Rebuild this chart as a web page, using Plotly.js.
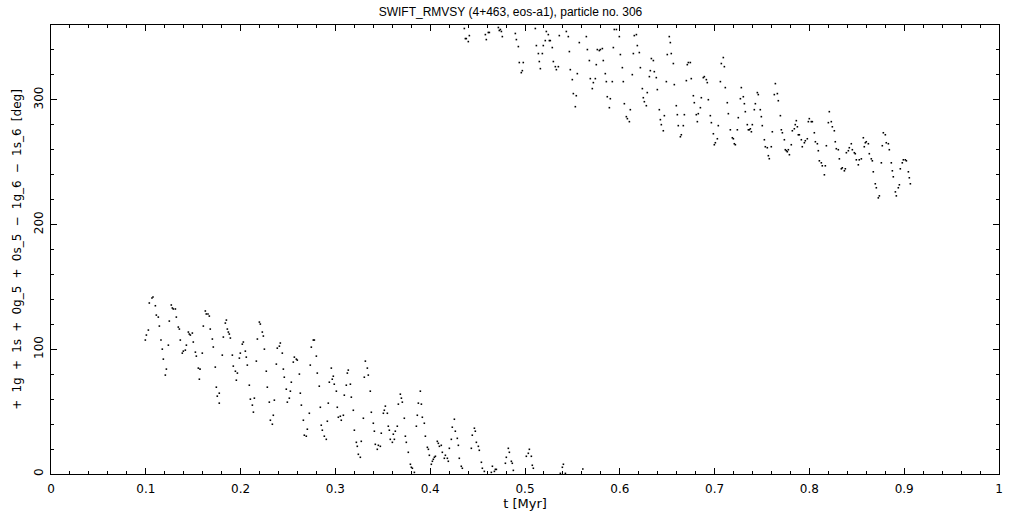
<!DOCTYPE html>
<html>
<head>
<meta charset="utf-8">
<script src="https://cdn.plot.ly/plotly-3.0.1.min.js"></script>
<style>
html,body{margin:0;padding:0;background:#fff;}
#chart{width:1021px;height:511px;}
</style>
</head>
<body>
<div id="chart"></div>
<script>
// time [Myr] and resonant angle [deg]
const tLow = [
0.1065,0.1076,0.1037,0.1101,0.1111,0.1132,0.1143,0.0995,0.1006,0.1027,0.1160,0.1174,0.1185,0.1217,0.1206,0.1238,0.1248,0.1269,0.1280,0.1290,
0.1312,0.1322,0.1343,0.1354,0.1364,0.1385,0.1396,0.1417,0.1428,0.1449,0.1459,0.1470,0.1491,0.1501,0.1523,0.1533,0.1554,0.1572,0.1565,0.1596,
0.1607,0.1628,0.1638,0.1656,0.1670,0.1680,0.1702,0.1712,0.1733,0.1744,0.1754,0.1775,0.1775,0.1807,0.1818,0.1839,0.1850,0.1860,0.1871,0.1881,
0.1892,0.1913,0.1923,0.1945,0.1955,0.1966,0.1987,0.1997,0.2018,0.2029,0.2050,0.2060,0.2071,0.2092,0.2103,0.2124,0.2135,0.2145,0.2166,0.2177,
0.2198,0.2208,0.2229,0.2240,0.2251,0.2271,0.2282,0.2303,
0.2314,0.2335,0.2345,0.2356,0.2377,0.2387,0.2409,0.2419,0.2440,0.2451,0.2461,0.2482,0.2493,0.2514,0.2525,0.2535,0.2556,0.2567,0.2588,0.2598,
0.2620,0.2630,0.2641,0.2662,0.2672,0.2693,0.2704,0.2725,0.2735,0.2746,0.2767,0.2778,0.2799,0.2809,0.2830,0.2841,0.2851,0.2862,0.2883,0.2904,
0.2915,0.2925,0.2936,0.2957,0.2967,0.2978,0.2988,0.3010,0.3020,0.3031,0.3052,0.3062,0.3084,0.3094,0.3115,0.3126,0.3136,0.3158,0.3168,0.3189,
0.3200,0.3221,0.3231,0.3242,0.3263,0.3273,0.3295,0.3305,0.3316,0.3337,0.3347,0.3368,0.3379,0.3400,0.3411,0.3421,0.3442,0.3453,0.3474,0.3484,
0.3506,0.3516,0.3527,0.3548,0.3558,0.3569,0.3579,0.3601,0.3611,0.3622,0.3632,0.3653,0.3664,0.3685,0.3696,0.3706,0.3727,0.3738,0.3748,0.3769,
0.3791,0.3801,0.3812,0.3833,0.3854,0.3864,0.3875,0.3896,0.3907,0.3917,0.3938,0.3949,0.3970,0.3981,0.3991,0.4012,0.4023,0.4033,0.4044,0.4055,
0.4075,0.4086,0.4097,
0.4117,0.4128,0.4149,0.4160,0.4181,0.4191,0.4202,0.4223,0.4233,0.4255,0.4265,0.4286,0.4297,0.4307,0.4328,0.4339,0.4434,0.4444,0.4466,0.4476,
0.4487,0.4508,0.4518,0.4540,0.4550,0.4571,0.4645,0.4656,0.4677,0.4687,0.4698,0.4793,0.4803,0.4824,0.4835,0.4856,0.4866,0.4877,0.5014,0.5035,
0.5046,0.5067,0.5077,0.5088,0.5373,0.5394,0.5405,0.5426,0.5610
];
const vLow = [
141.1,141.9,137.1,134.9,127.4,125.8,118.6,107.4,111.4,115.4,107.4,100.1,92.1,84.1,79.3,103.3,122.6,135.5,133.1,132.3,
132.3,125.8,117.8,116.2,107.4,96.9,98.5,99.3,103.3,113.8,112.2,111.4,113.0,105.8,97.7,94.5,84.9,84.1,76.0,96.9,
118.6,130.7,128.3,128.3,126.6,116.2,108.2,101.8,85.7,69.6,62.4,64.8,56.8,95.3,109.8,121.0,123.4,116.2,113.8,112.2,
109.0,95.3,86.5,82.4,75.2,80.9,92.9,96.9,104.1,105.8,98.5,93.7,87.3,71.2,60.0,55.2,49.6,60.8,90.5,108.2,
121.8,120.2,113.8,110.6,100.1,82.4,69.6,57.6,
43.1,39.9,47.1,59.2,88.1,100.9,102.5,105.0,96.9,84.1,77.6,68.0,57.6,60.8,66.4,73.6,89.7,93.7,92.1,91.3,
80.1,64.8,55.2,43.1,31.1,30.3,35.9,48.7,87.3,101.7,107.4,107.4,94.5,80.9,70.4,53.5,39.1,35.1,30.3,27.8,
42.3,56.8,73.6,84.9,76.0,78.4,72.0,66.4,53.5,45.5,46.3,43.1,47.1,63.2,71.2,80.9,83.3,72.0,61.6,51.1,
35.1,25.4,22.2,15.8,13.4,26.2,44.7,77.6,90.5,84.9,79.3,66.4,49.5,40.7,34.3,23.8,19.8,23.0,22.2,32.7,
48.7,51.1,54.4,48.7,38.3,35.1,27.8,25.4,31.9,27.8,34.3,38.3,56.0,64.0,60.8,57.6,44.7,30.3,25.4,17.4,
7.8,5.4,4.6,1.3,38.3,47.1,56.8,66.4,56.0,45.5,40.7,30.3,21.4,19.8,15.0,7.8,10.2,11.8,13.4,14.2,
26.2,24.6,22.2,
23.0,17.4,12.6,15.0,12.6,10.2,20.6,27.8,37.5,43.9,34.3,28.6,23.0,12.6,6.2,4.6,20.6,31.1,36.7,34.3,
25.4,22.2,19.0,9.4,4.6,2.1,1.3,6.2,2.1,3.7,3.7,8.6,13.4,20.6,17.4,10.2,8.6,2.9,14.2,16.6,
19.8,14.2,7.0,4.6,0.5,5.4,7.8,0.5,4.0
];
const tHigh = [
0.4360,0.4371,0.4381,0.4402,0.4413,0.4582,0.4592,0.4613,0.4624,0.4719,0.4729,0.4740,0.4751,0.4761,0.4898,0.4909,0.4930,0.4940,0.4961,0.4972,
0.4982,0.5109,0.5120,0.5141,0.5151,0.5162,0.5183,0.5193,0.5214,0.5225,0.5246,0.5257,0.5267,0.5288,0.5299,0.5320,0.5331,0.5352,0.5362,0.5436,
0.5457,0.5468,0.5478,0.5499,0.5510,0.5531,0.5541,0.5552,0.5573,0.5647,0.5658,0.5679,0.5689,0.5710,0.5721,0.5742,0.5752,0.5763,0.5784,0.5795,
0.5816,0.5826,0.5847,0.5858,0.5868,0.5890,0.5900,0.5921,0.5932,0.5942,0.5964,0.5995,
0.6006,0.6027,0.6037,0.6048,0.6069,0.6080,0.6101,0.6111,0.6132,0.6143,0.6153,0.6175,0.6185,0.6206,0.6217,0.6238,0.6248,0.6259,0.6280,0.6290,
0.6312,0.6322,0.6333,0.6354,0.6364,0.6385,0.6396,0.6417,0.6428,0.6438,0.6459,0.6470,0.6491,0.6501,0.6522,0.6533,0.6543,0.6565,0.6575,0.6596,
0.6607,0.6617,0.6639,0.6649,0.6670,0.6681,0.6702,0.6712,0.6723,0.6744,0.6754,0.6776,0.6786,0.6807,0.6818,0.6828,0.6850,0.6860,0.6881,0.6892,
0.6913,0.6923,0.6934,0.6955,0.6966,0.6987,0.6997,0.7008,0.7029,0.7039,0.7061,0.7071,0.7092,0.7103,0.7113,0.7134,0.7145,0.7166,0.7187,0.7198,
0.7208,0.7219,0.7240,0.7250,0.7272,0.7282,0.7303,0.7314,0.7324,0.7345,0.7356,0.7366,0.7377,0.7388,0.7398,0.7419,0.7430,0.7451,0.7461,0.7482,
0.7493,0.7503,0.7525,0.7535,0.7556,0.7567,0.7577,0.7598,0.7609,0.7630,0.7641,0.7662,0.7672,0.7694,0.7704,0.7715,0.7736,0.7746,0.7757,0.7767,
0.7778,0.7789,0.7809,0.7820,0.7841,0.7851,0.7862,0.7873,0.7883,0.7894,
0.7915,0.7925,0.7947,0.7957,0.7978,0.7989,0.7999,0.8020,0.8031,0.8052,0.8063,0.8084,0.8094,0.8105,0.8126,0.8136,0.8158,0.8168,0.8179,0.8200,
0.8210,0.8231,0.8242,0.8263,0.8273,0.8284,0.8305,0.8316,0.8337,0.8347,0.8369,0.8379,0.8390,0.8411,0.8421,0.8442,0.8453,0.8474,0.8484,0.8495,
0.8516,0.8526,0.8548,0.8569,0.8579,0.8590,0.8600,0.8622,0.8632,0.8653,0.8664,0.8674,0.8695,0.8706,0.8727,0.8738,0.8759,0.8769,0.8780,0.8801,
0.8811,0.8833,0.8843,0.8864,0.8875,0.8885,0.8907,0.8917,0.8938,0.8949,0.8959,0.8980,0.8991,0.9012,0.9023,0.9044,0.9054,0.9065
];
const vHigh = [
357.2,349.1,349.1,346.7,351.5,352.3,348.3,354.0,354.0,358.0,355.6,356.4,354.8,350.7,353.2,348.3,342.7,329.9,321.8,323.4,
329.9,357.2,343.5,337.1,330.7,325.0,337.1,343.5,347.5,354.8,352.3,347.5,347.5,341.9,330.7,326.6,324.2,326.6,351.5,354.8,
350.7,338.7,324.2,316.2,305.0,294.5,303.3,321.0,345.9,350.7,340.3,331.5,317.0,309.0,313.8,317.0,328.2,340.3,339.5,340.3,
341.1,331.5,321.0,314.6,302.5,293.7,300.9,314.6,341.9,356.4,356.4,350.7,
336.3,325.8,314.6,296.9,286.5,284.9,282.5,292.1,320.2,337.1,351.5,352.3,343.5,337.9,325.8,309.0,301.7,298.5,295.3,305.8,
318.6,323.4,333.1,331.5,322.6,317.8,308.2,292.1,284.1,280.1,275.2,287.3,314.6,336.3,350.7,345.9,337.1,329.1,312.2,295.3,
288.1,279.3,270.4,272.0,279.3,288.1,315.4,328.2,329.9,329.9,317.0,303.3,297.7,288.1,282.5,288.9,293.7,301.7,317.8,318.6,
316.2,313.8,300.1,287.3,281.7,272.8,264.0,265.6,268.8,279.3,314.6,329.1,333.9,326.6,309.8,297.7,288.9,276.0,269.6,268.8,
264.8,264.0,276.0,285.7,300.9,309.8,302.5,296.9,290.5,280.1,276.0,276.0,276.8,274.4,280.1,292.1,296.9,305.8,304.2,292.1,
286.5,279.3,268.0,262.4,261.6,255.2,252.8,262.4,274.4,304.2,313.0,305.0,299.3,287.3,276.0,273.6,268.0,260.0,259.2,258.4,
260.0,256.0,264.0,275.2,276.8,280.1,283.3,278.4,272.0,272.0,
268.0,262.4,265.6,267.2,268.8,282.5,284.9,282.5,282.5,273.6,266.4,264.8,259.2,251.1,249.5,247.1,239.9,247.1,263.2,281.7,
290.5,282.5,278.4,275.2,266.4,260.8,260.0,252.7,244.7,245.5,243.1,244.7,257.6,259.2,261.6,264.8,260.0,257.6,256.8,251.9,
247.9,251.9,252.7,269.6,262.4,265.6,266.4,264.8,256.8,252.7,251.1,242.3,232.7,229.5,221.4,223.0,249.5,263.2,273.6,272.0,
265.6,264.8,260.0,249.5,243.1,238.3,226.2,223.0,229.5,231.9,244.7,249.5,251.9,251.9,251.1,242.3,237.5,232.7
];
const xTickVals = [0,0.1,0.2,0.3,0.4,0.5,0.6,0.7,0.8,0.9,1];
const xTickText = ['0','0.1','0.2','0.3','0.4','0.5','0.6','0.7','0.8','0.9','1'];
const yTickVals = [0,100,200,300];
const yTickText = ['0','100','200','300'];
const titleText = 'SWIFT_RMVSY (4+463, eos-a1), particle no. 306';
const xTitleText = 't [Myr]';
const yTitleParts = ['+', '1g', '+', '1s', '+', '0g_5', '+', '0s_5', '\u2212', '1g_6', '\u2212', '1s_6', '[deg]'];

const tAll = tLow.concat(tHigh);
const vAll = vLow.concat(vHigh);

const TITLEFONT = 'Liberation Sans, Arial, sans-serif';
const AXFONT = 'DejaVu Sans, sans-serif';
const WIDE = '\u2002\u200A';

const trace = {
  x: tAll, y: vAll, type: 'scatter', mode: 'markers',
  marker: {color: '#000', size: 1.6, symbol: 'square', line: {width: 0}},
  hoverinfo: 'skip', showlegend: false
};

const axisCommon = {
  showgrid: false, zeroline: false, showline: true, linecolor: '#000', linewidth: 1,
  mirror: 'allticks', ticks: 'inside', ticklen: 6, tickwidth: 1, tickcolor: '#000',
  tickfont: {family: AXFONT, size: 12, color: '#000'}
};

const layout = {
  width: 1021, height: 511,
  paper_bgcolor: '#fff', plot_bgcolor: '#fff',
  margin: {l: 51, r: 22, t: 25, b: 37},
  title: {text: titleText,
          font: {family: TITLEFONT, size: 12, color: '#000'}, x: 0.5, xanchor: 'center', y: 0.985, yanchor: 'top'},
  xaxis: Object.assign({}, axisCommon, {
    range: [0, 1], tickvals: xTickVals, ticktext: xTickText, ticklabelstandoff: 4,
    minor: {ticks: 'inside', ticklen: 3, dtick: 0.02, tickcolor: '#000', tickwidth: 1},
    title: {text: xTitleText, font: {family: AXFONT, size: 13, color: '#000'}, standoff: 4}
  }),
  yaxis: Object.assign({}, axisCommon, {
    range: [0, 360], tickvals: yTickVals, ticktext: yTickText, tickangle: -90, ticklabelstandoff: 2,
    minor: {ticks: 'inside', ticklen: 3, dtick: 20, tickcolor: '#000', tickwidth: 1},
    title: {text: yTitleParts.join(WIDE), font: {family: AXFONT, size: 12, color: '#000'}, standoff: 8}
  })
};

Plotly.newPlot('chart', [trace], layout, {staticPlot: true, displayModeBar: false});
</script>
</body>
</html>
